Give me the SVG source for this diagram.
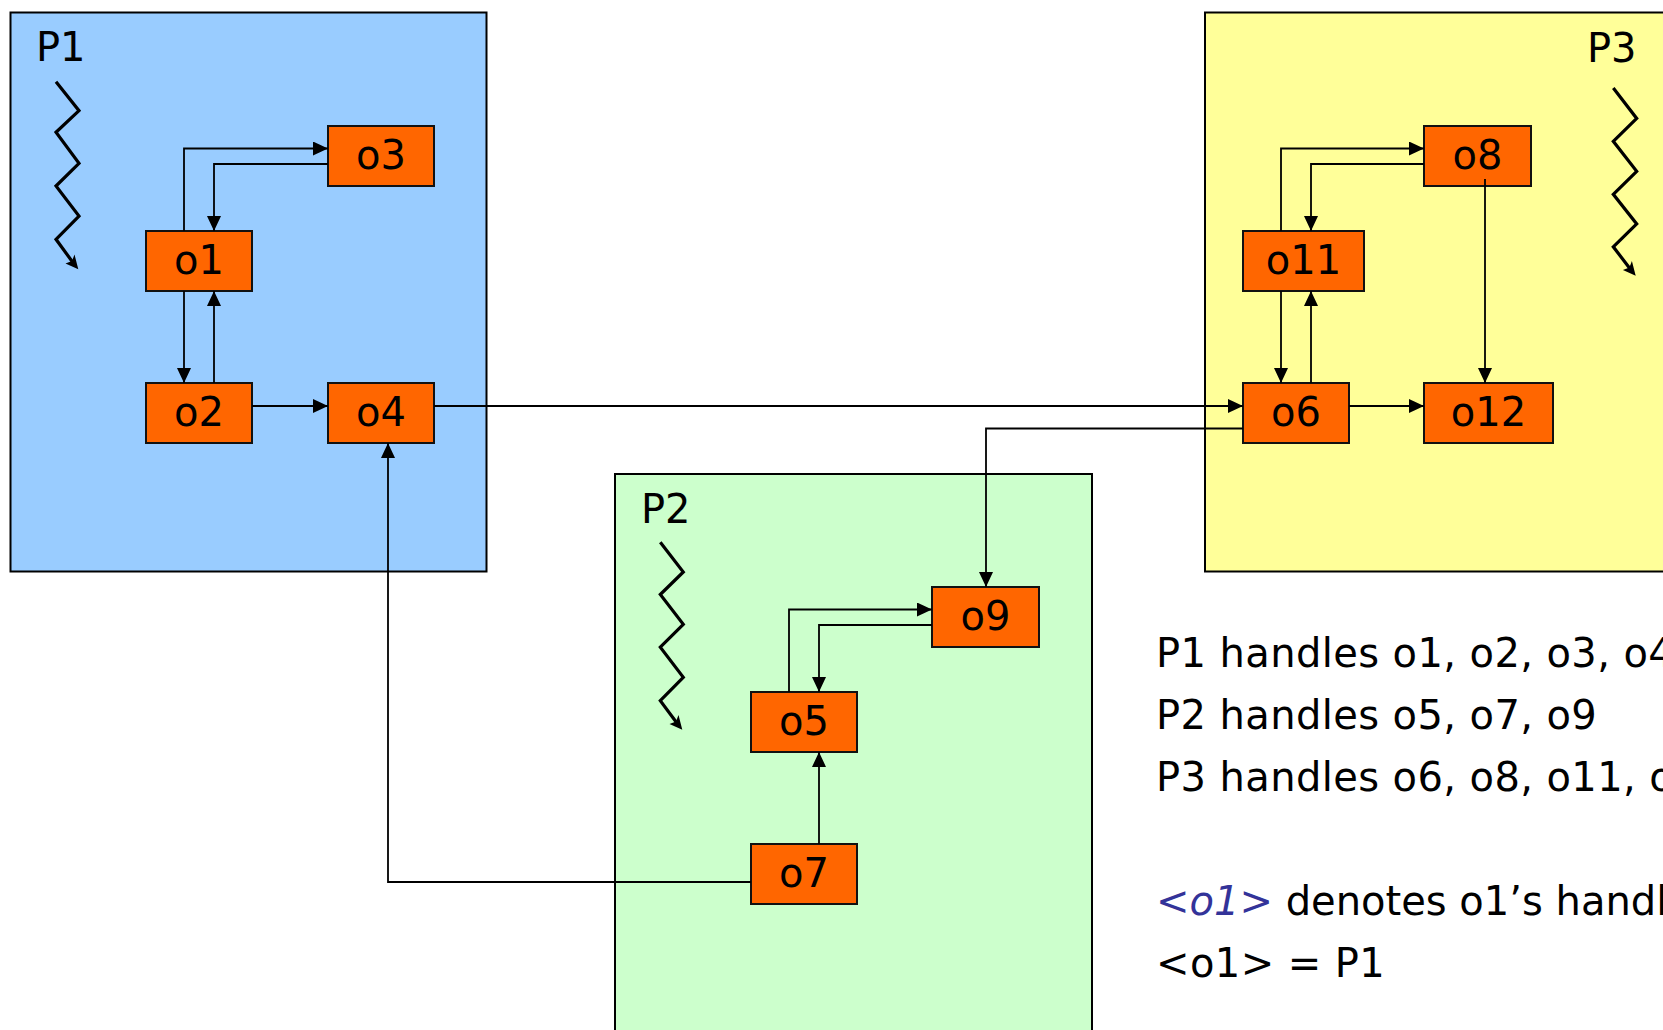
<svg xmlns="http://www.w3.org/2000/svg" width="1663" height="1030" viewBox="0 0 1663 1030">
<style>
  .proc { stroke: #000; stroke-width: 2; }
  .p1 { fill: #99CCFF; }
  .p2 { fill: #CCFFCC; }
  .p3 { fill: #FFFF99; }
  .node rect { fill: #FF6600; stroke: #111; stroke-width: 2; }
  .lbl { font-family: "DejaVu Sans", Verdana, sans-serif; font-size: 40px; fill: #000; }
  .leg { letter-spacing: 0.4px; }
  .node text { text-anchor: middle; }
  .conn path { fill: none; stroke: #000; stroke-width: 1.8; marker-end: url(#arr); }
  .zig { fill: none; stroke: #000; stroke-width: 3.2; stroke-linejoin: miter; }
  .zighead { fill: #000; }
</style>
<defs>
  <marker id="arr" markerUnits="userSpaceOnUse" markerWidth="16" markerHeight="14" refX="15" refY="7" orient="auto">
    <path d="M0,0 L15,7 L0,14 z" fill="#000"/>
  </marker>
</defs>

<g id="P1">
  <rect class="proc p1" x="10.5" y="12.5" width="476" height="559"/>
  <text class="lbl" x="36" y="61">P1</text>
  <polyline class="zig" points="56,81.7 79,110.7 56,132.3 79,163.3 56,186 79,216 56,239.3 74,264"/>
  <polygon class="zighead" points="78.3,269.3 65.5,263.5 72,261 74.5,254.5"/>
</g>
<g id="P2">
  <rect class="proc p2" x="615" y="474" width="477" height="570"/>
  <text class="lbl" x="641" y="523">P2</text>
  <polyline class="zig" points="660.3,542.2 683.3,572 660.3,594.5 683.3,624.3 660.3,647.2 683.3,677.4 660.3,700.6 678,724.5"/>
  <polygon class="zighead" points="682.3,729.7 669.5,723.9 676,721.4 678.5,714.9"/>
</g>
<g id="P3">
  <rect class="proc p3" x="1205" y="12.5" width="470" height="559"/>
  <text class="lbl" x="1587" y="62">P3</text>
  <polyline class="zig" points="1613.3,88 1636.7,118.4 1613.3,141.3 1636.7,171.3 1613.3,194.3 1636.7,223.9 1613.3,246.8 1631.4,270.5"/>
  <polygon class="zighead" points="1635.7,275.7 1622.9,269.9 1629.4,267.4 1631.9,260.9"/>
</g>

<g id="o1" class="node"><rect x="146" y="231" width="106" height="60"/><text class="lbl" x="199" y="274">o1</text></g>
<g id="o2" class="node"><rect x="146" y="383" width="106" height="60"/><text class="lbl" x="199" y="426">o2</text></g>
<g id="o3" class="node"><rect x="328" y="126" width="106" height="60"/><text class="lbl" x="381" y="169">o3</text></g>
<g id="o4" class="node"><rect x="328" y="383" width="106" height="60"/><text class="lbl" x="381" y="426">o4</text></g>
<g id="o5" class="node"><rect x="751" y="692" width="106" height="60"/><text class="lbl" x="804" y="735">o5</text></g>
<g id="o7" class="node"><rect x="751" y="844" width="106" height="60"/><text class="lbl" x="804" y="887">o7</text></g>
<g id="o9" class="node"><rect x="932" y="587" width="107" height="60"/><text class="lbl" x="985.5" y="630">o9</text></g>
<g id="o8" class="node"><rect x="1424" y="126" width="107" height="60"/><text class="lbl" x="1477.5" y="169">o8</text></g>
<g id="o11" class="node"><rect x="1243" y="231" width="121" height="60"/><text class="lbl" x="1303.5" y="274">o11</text></g>
<g id="o6" class="node"><rect x="1243" y="383" width="106" height="60"/><text class="lbl" x="1296" y="426">o6</text></g>
<g id="o12" class="node"><rect x="1424" y="383" width="129" height="60"/><text class="lbl" x="1488.5" y="426">o12</text></g>

<g id="connectors" class="conn">
  <path d="M184,231 V148.5 H328"/>
  <path d="M328,164 H214 V231"/>
  <path d="M184,291 V383"/>
  <path d="M214,383 V291"/>
  <path d="M252,406 H328"/>
  <path d="M434,406 H1243"/>
  <path d="M751,882 H388 V443"/>
  <path d="M789,692 V609.5 H932"/>
  <path d="M932,625 H819 V692"/>
  <path d="M819,844 V752"/>
  <path d="M1243,428.5 H986 V587"/>
  <path d="M1281,231 V148.5 H1424"/>
  <path d="M1424,164 H1311 V231"/>
  <path d="M1281,291 V383"/>
  <path d="M1311,383 V291"/>
  <path d="M1349,406 H1424"/>
  <path d="M1485,179 V383"/>
</g>

<g id="legend">
  <text class="lbl leg" x="1156" y="667">P1 handles o1, o2, o3, o4</text>
  <text class="lbl leg" x="1156" y="729">P2 handles o5, o7, o9</text>
  <text class="lbl leg" x="1156" y="791">P3 handles o6, o8, o11, o12</text>
  <text class="lbl" x="1156" y="915"><tspan fill="#333399" font-style="italic">&lt;o1&gt;</tspan> denotes o1’s handler</text>
  <text class="lbl leg" x="1156" y="977">&lt;o1&gt; = P1</text>
</g>
</svg>
